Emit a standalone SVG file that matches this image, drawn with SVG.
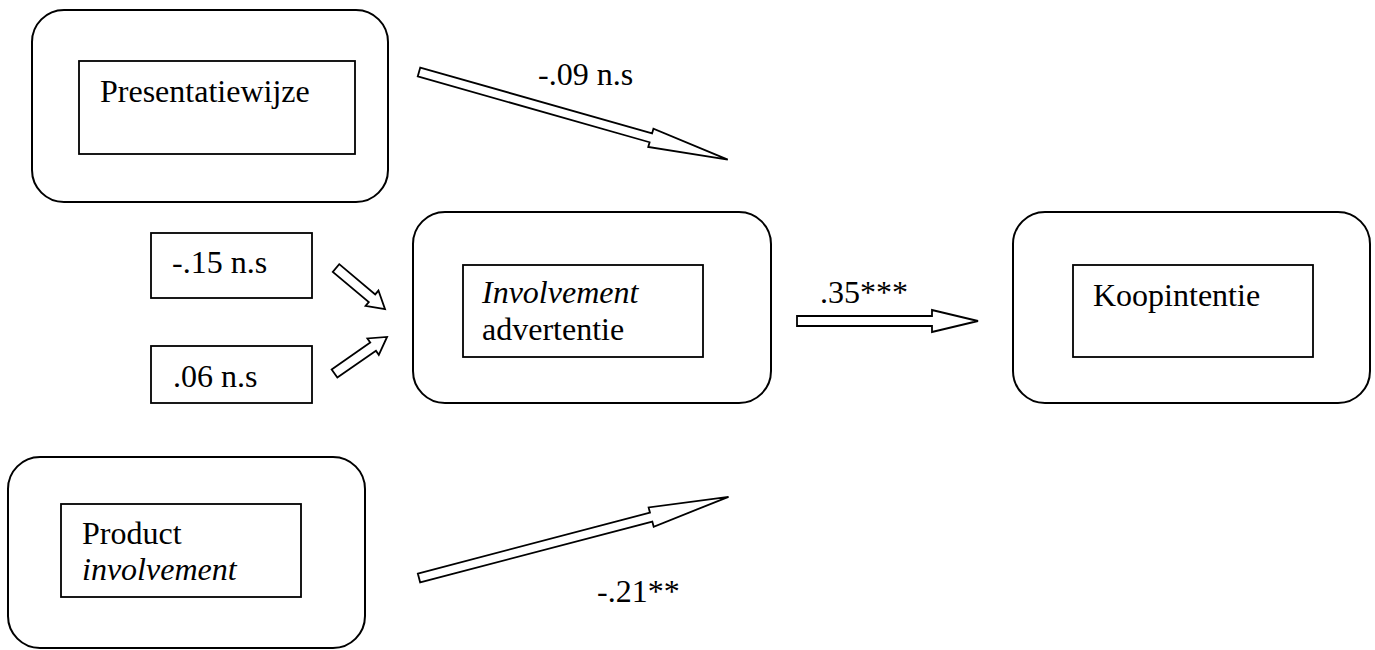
<svg xmlns="http://www.w3.org/2000/svg" width="1375" height="650" viewBox="0 0 1375 650">
<style>
.outer{fill:#fff;stroke:#000;stroke-width:2}
.inner{fill:#fff;stroke:#000;stroke-width:1.8}
.arrow{fill:#fff;stroke:#000;stroke-width:1.8;stroke-linejoin:miter}
text{font-family:"Liberation Serif","Times New Roman",serif;font-size:32px;fill:#000}
.it{font-style:italic}
</style>
<rect width="1375" height="650" fill="#fff"/>
<g id="node-presentatiewijze">
<rect class="outer" x="32" y="10" width="356" height="192" rx="32"/>
<rect class="inner" x="79" y="61" width="276" height="93"/>
<text x="100" y="102">Presentatiewijze</text>
</g>
<g id="node-involvement-advertentie">
<rect class="outer" x="413" y="212" width="358" height="191" rx="32"/>
<rect class="inner" x="463" y="265" width="240" height="92"/>
<text x="482" y="303" class="it">Involvement</text>
<text x="482" y="340">advertentie</text>
</g>
<g id="node-koopintentie">
<rect class="outer" x="1013" y="212" width="357" height="191" rx="32"/>
<rect class="inner" x="1073" y="265" width="240" height="92"/>
<text x="1093" y="306">Koopintentie</text>
</g>
<g id="node-product-involvement">
<rect class="outer" x="8" y="457" width="357" height="191" rx="32"/>
<rect class="inner" x="61" y="504" width="240" height="93"/>
<text x="82" y="544">Product</text>
<text x="82" y="580" class="it">involvement</text>
</g>
<g id="label-box-015">
<rect class="inner" x="151" y="233" width="161" height="65"/>
<text x="172" y="273">-.15 n.s</text>
</g>
<g id="label-box-006">
<rect class="inner" x="151" y="346" width="161" height="57"/>
<text x="173" y="387">.06 n.s</text>
</g>
<g id="connectors">
<polygon class="arrow" transform="translate(419,72) rotate(15.85)" points="0,-4.6 241,-4.6 241,-9.5 321,0 241,9.5 241,4.6 0,4.6"/>
<polygon class="arrow" transform="translate(419,578) rotate(-14.7)" points="0,-4.6 240,-4.6 240,-10 320,0 240,10 240,4.6 0,4.6"/>
<polygon class="arrow" transform="translate(797,321)" points="0,-5 135,-5 135,-11 181,0 135,11 135,5 0,5"/>
<polygon class="arrow" transform="translate(336,268) rotate(40)" points="0,-5 47,-5 47,-10 64,0 47,10 47,5 0,5"/>
<polygon class="arrow" transform="translate(334.5,373.5) rotate(-34.8)" points="0,-5 47,-5 47,-10 64,0 47,10 47,5 0,5"/>
<text x="538" y="85">-.09 n.s</text>
<text x="820" y="303">.35***</text>
<text x="597" y="602">-.21**</text>
</g>
</svg>
